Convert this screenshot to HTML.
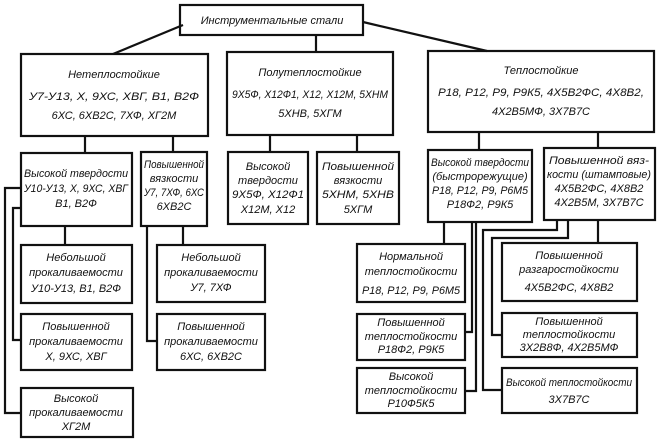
<!DOCTYPE html>
<html><head><meta charset="utf-8"><style>
html,body{margin:0;padding:0;background:#fff;}
svg{display:block}
text{font-family:"Liberation Sans",sans-serif;font-style:italic;font-size:11px;fill:#111;text-anchor:middle}
</style></head><body>
<svg width="660" height="442" viewBox="0 0 660 442" xmlns="http://www.w3.org/2000/svg">
<g fill="none" stroke="#111" stroke-width="2.2">
<rect x="180" y="5" width="183" height="30"/>
<rect x="21" y="54" width="187" height="82"/>
<rect x="227" y="52" width="166" height="83"/>
<rect x="428" y="51" width="226" height="81"/>
<rect x="21" y="153" width="111" height="73"/>
<rect x="141" y="152" width="66" height="74"/>
<rect x="228" y="152" width="80" height="72"/>
<rect x="317" y="152" width="82" height="72"/>
<rect x="428" y="150" width="104" height="72"/>
<rect x="544" y="148" width="111" height="72"/>
<rect x="21" y="245" width="111" height="58"/>
<rect x="21" y="314" width="111" height="56"/>
<rect x="21" y="388" width="112" height="49"/>
<rect x="157" y="245" width="108" height="57"/>
<rect x="157" y="314" width="108" height="56"/>
<rect x="357" y="244" width="108" height="58"/>
<rect x="357" y="314" width="108" height="46"/>
<rect x="357" y="368" width="108" height="45"/>
<rect x="502" y="243" width="135" height="58"/>
<rect x="502" y="313" width="135" height="44"/>
<rect x="502" y="368" width="135" height="45"/>
<path d="M183 25 L113 54 M363 22 L487 51 M316 35 V52"/>
<path d="M85 136 V153 M173 136 V152 M270 135 V152 M357 135 V152 M479 132 V150 M598 132 V148"/>
<path d="M65 226 V245 M21 188 H5 V413 H21 M21 208 H13 V340 H21"/>
<path d="M183 226 V245 M147 226 V341 H157"/>
<path d="M444 222 V244 M472 222 V332 H465 M476 222 V391 H465"/>
<path d="M598 220 V243 M557 220 V230 H483 V390 H502 M568 220 V238 H492 V335 H502"/>
</g>
<text x="272" y="24">Инструментальные стали</text>
<text x="114" y="78">Нетеплостойкие</text>
<text x="114" y="100" textLength="170" lengthAdjust="spacingAndGlyphs">У7-У13, Х, 9ХС, ХВГ, В1, В2Ф</text>
<text x="114" y="119">6ХС, 6ХВ2С, 7ХФ, ХГ2М</text>
<text x="310" y="76">Полутеплостойкие</text>
<text x="310" y="98" textLength="156" lengthAdjust="spacingAndGlyphs">9Х5Ф, Х12Ф1, Х12, Х12М, 5ХНМ</text>
<text x="310" y="117">5ХНВ, 5ХГМ</text>
<text x="541" y="74">Теплостойкие</text>
<text x="541" y="96" textLength="206" lengthAdjust="spacingAndGlyphs">Р18, Р12, Р9, Р9К5, 4Х5В2ФС, 4Х8В2,</text>
<text x="541" y="115">4Х2В5МФ, 3Х7В7С</text>
<text x="76" y="177" textLength="104" lengthAdjust="spacingAndGlyphs">Высокой твердости</text>
<text x="76" y="192" textLength="104" lengthAdjust="spacingAndGlyphs">У10-У13, Х, 9ХС, ХВГ</text>
<text x="76" y="207">В1, В2Ф</text>
<text x="174" y="168" textLength="60" lengthAdjust="spacingAndGlyphs">Повышенной</text>
<text x="174" y="182">вязкости</text>
<text x="174" y="196" textLength="60" lengthAdjust="spacingAndGlyphs">У7, 7ХФ, 6ХС</text>
<text x="174" y="210">6ХВ2С</text>
<text x="268" y="170">Высокой</text>
<text x="268" y="184">твердости</text>
<text x="268" y="198" textLength="72" lengthAdjust="spacingAndGlyphs">9Х5Ф, Х12Ф1</text>
<text x="268" y="213">Х12М, Х12</text>
<text x="358" y="170" textLength="72" lengthAdjust="spacingAndGlyphs">Повышенной</text>
<text x="358" y="184">вязкости</text>
<text x="358" y="198" textLength="72" lengthAdjust="spacingAndGlyphs">5ХНМ, 5ХНВ</text>
<text x="358" y="213">5ХГМ</text>
<text x="480" y="166" textLength="98" lengthAdjust="spacingAndGlyphs">Высокой твердости</text>
<text x="480" y="180">(быстрорежущие)</text>
<text x="480" y="194" textLength="96" lengthAdjust="spacingAndGlyphs">Р18, Р12, Р9, Р6М5</text>
<text x="480" y="208">Р18Ф2, Р9К5</text>
<text x="599" y="164" textLength="100" lengthAdjust="spacingAndGlyphs">Повышенной вяз-</text>
<text x="599" y="178" textLength="104" lengthAdjust="spacingAndGlyphs">кости (штамповые)</text>
<text x="599" y="192">4Х5В2ФС, 4Х8В2</text>
<text x="599" y="206">4Х2В5М, 3Х7В7С</text>
<text x="76" y="261">Небольшой</text>
<text x="76" y="276">прокаливаемости</text>
<text x="76" y="292">У10-У13, В1, В2Ф</text>
<text x="76" y="330">Повышенной</text>
<text x="76" y="345">прокаливаемости</text>
<text x="76" y="360">Х, 9ХС, ХВГ</text>
<text x="76" y="402">Высокой</text>
<text x="76" y="416">прокаливаемости</text>
<text x="76" y="430">ХГ2М</text>
<text x="211" y="261">Небольшой</text>
<text x="211" y="276">прокаливаемости</text>
<text x="211" y="291">У7, 7ХФ</text>
<text x="211" y="330">Повышенной</text>
<text x="211" y="345">прокаливаемости</text>
<text x="211" y="360">6ХС, 6ХВ2С</text>
<text x="411" y="260">Нормальной</text>
<text x="411" y="275">теплостойкости</text>
<text x="411" y="294" textLength="98" lengthAdjust="spacingAndGlyphs">Р18, Р12, Р9, Р6М5</text>
<text x="411" y="326">Повышенной</text>
<text x="411" y="340">теплостойкости</text>
<text x="411" y="353">Р18Ф2, Р9К5</text>
<text x="411" y="380">Высокой</text>
<text x="411" y="394">теплостойкости</text>
<text x="411" y="407">Р10Ф5К5</text>
<text x="569" y="259">Повышенной</text>
<text x="569" y="273">разгаростойкости</text>
<text x="569" y="291">4Х5В2ФС, 4Х8В2</text>
<text x="569" y="325">Повышенной</text>
<text x="569" y="338">теплостойкости</text>
<text x="569" y="351">3Х2В8Ф, 4Х2В5МФ</text>
<text x="569" y="386" textLength="126" lengthAdjust="spacingAndGlyphs">Высокой теплостойкости</text>
<text x="569" y="403">3Х7В7С</text>
</svg>
</body></html>
